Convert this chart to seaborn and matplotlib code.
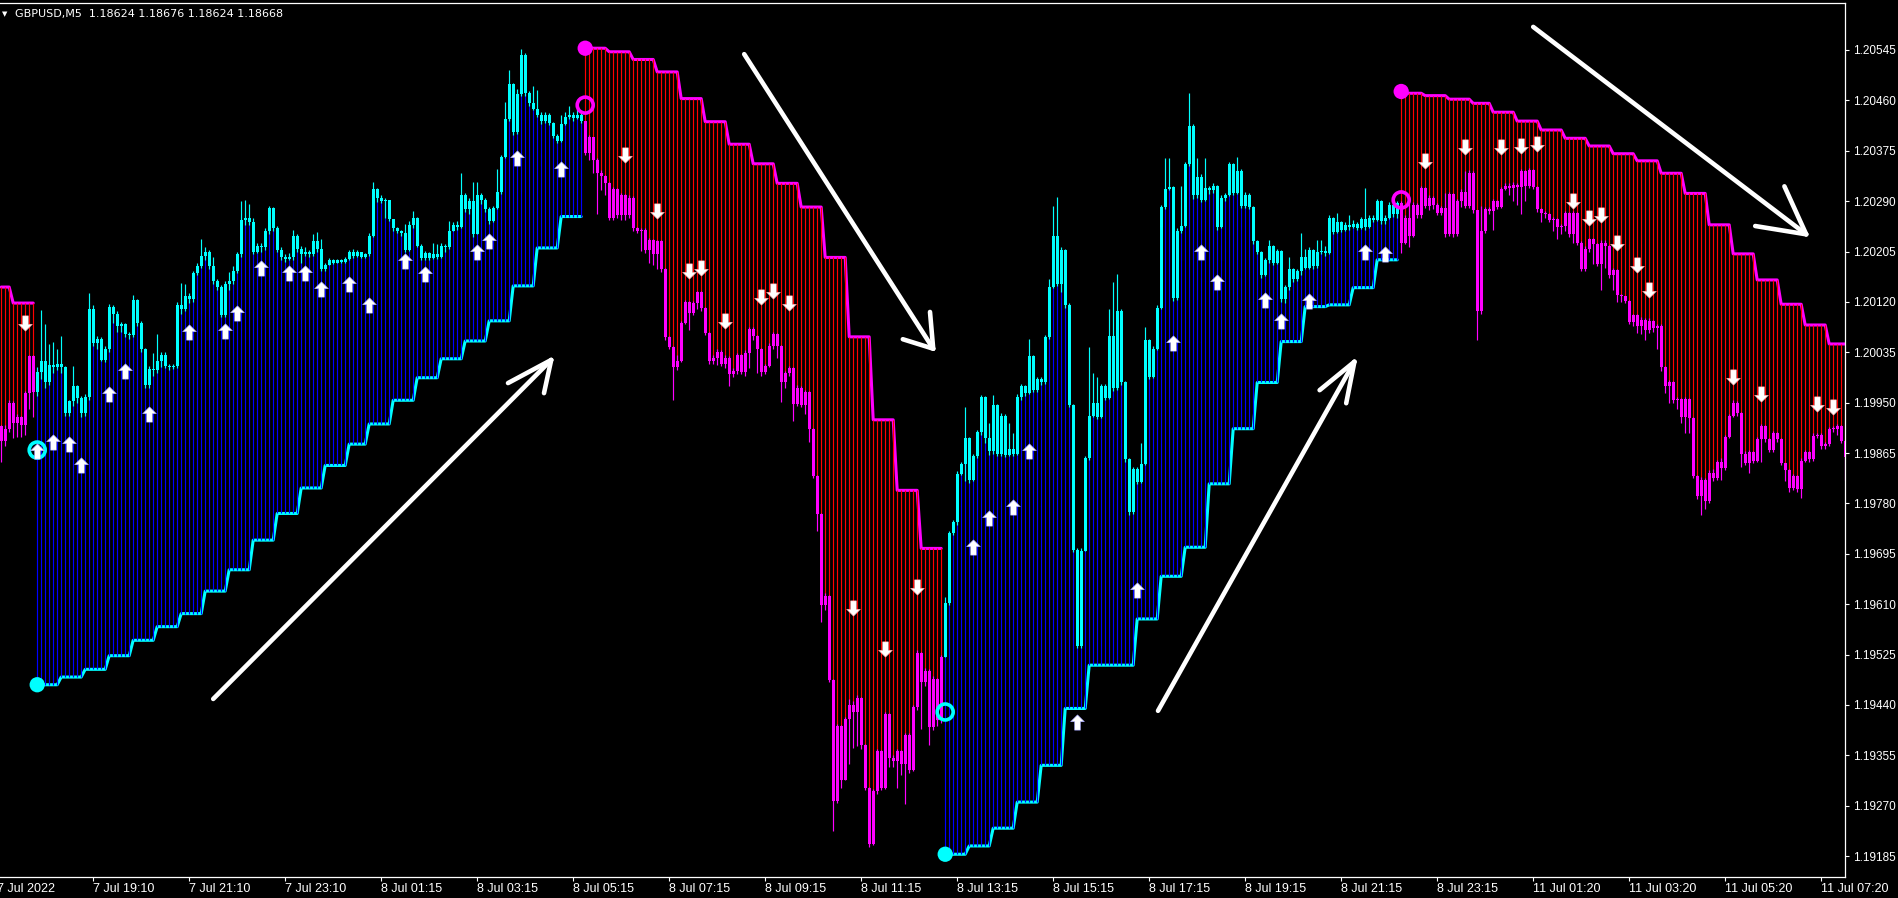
import numpy as np
import matplotlib
matplotlib.use("Agg")
import matplotlib.pyplot as plt
from matplotlib.path import Path
import seaborn as sns

# prices are kept in points (1e-5) above 1.19000
BASE = 1.19
PT = 1e-5

open_first = 910
close_pts = [
    886, 905, 950, 915, 925, 912, 966, 1028, 968, 1002,
    1020, 985, 1014, 1010, 1015, 1010, 932, 952, 978, 958,
    932, 960, 1108, 1050, 1058, 1022, 1040, 1112, 1100, 1080,
    1082, 1066, 1064, 1124, 1085, 1040, 980, 1007, 1005, 1020,
    1030, 1012, 1010, 1012, 1114, 1108, 1130, 1125, 1168, 1180,
    1198, 1205, 1180, 1155, 1145, 1098, 1150, 1155, 1172, 1200,
    1258, 1262, 1255, 1205, 1215, 1212, 1240, 1278, 1245, 1208,
    1195, 1192, 1195, 1232, 1210, 1200, 1205, 1200, 1222, 1210,
    1176, 1182, 1190, 1186, 1191, 1188, 1192, 1204, 1198, 1204,
    1196, 1200, 1232, 1310, 1296, 1290, 1292, 1260, 1244, 1240,
    1236, 1208, 1250, 1262, 1215, 1194, 1202, 1194, 1200, 1196,
    1215, 1212, 1240, 1250, 1246, 1300, 1276, 1290, 1234, 1300,
    1292, 1276, 1256, 1278, 1305, 1365, 1428, 1488, 1406, 1470,
    1536, 1472, 1456, 1446, 1436, 1425, 1436, 1422, 1400, 1392,
    1420, 1432, 1436, 1430, 1436, 1426, 1372, 1398, 1360, 1338,
    1332, 1320, 1262, 1310, 1266, 1300, 1266, 1296, 1244, 1240,
    1242, 1208, 1224, 1200, 1222, 1176, 1060, 1044, 1010, 1020,
    1085, 1120, 1102, 1118, 1136, 1110, 1068, 1020, 1026, 1036,
    1016, 1026, 998, 1004, 1030, 1002, 1034, 1075, 1062, 1040,
    1002, 1012, 1045, 1066, 1046, 984, 1000, 1008, 948, 975,
    946, 968, 906, 826, 762, 608, 624, 482, 278, 404,
    314, 416, 440, 428, 452, 372, 300, 206, 294, 362,
    300, 424, 350, 346, 362, 340, 390, 330, 436, 528,
    478, 498, 402, 484, 414, 520, 612, 730, 748, 830,
    846, 890, 820, 860, 900, 960, 890, 868, 946, 864,
    928, 862, 872, 864, 960, 978, 966, 1028, 972, 990,
    984, 1060, 1145, 1232, 1150, 1208, 1115, 946, 702, 540,
    700, 856, 928, 950, 926, 978, 958, 1062, 975, 1105,
    984, 855, 765, 838, 816, 846, 1055, 994, 1040, 1110,
    1280, 1310, 1314, 1126, 1240, 1248, 1352, 1416, 1300, 1330,
    1292, 1312, 1308, 1316, 1246, 1296, 1300, 1352, 1304, 1340,
    1282, 1300, 1280, 1222, 1205, 1165, 1190, 1214, 1186, 1206,
    1125, 1145, 1176, 1158, 1172, 1195, 1178, 1208, 1180, 1204,
    1206, 1202, 1262, 1238, 1254, 1242, 1250, 1246, 1252, 1245,
    1260, 1246, 1262, 1258, 1290, 1256, 1262, 1284, 1268, 1286,
    1220, 1262, 1232, 1284, 1266, 1312, 1282, 1296, 1284, 1270,
    1278, 1234, 1302, 1234, 1290, 1306, 1282, 1338, 1275, 1104,
    1240, 1276, 1274, 1290, 1280, 1310, 1316, 1312, 1318, 1314,
    1340, 1316, 1342, 1314, 1276, 1270, 1268, 1258, 1260, 1246,
    1248, 1270, 1234, 1270, 1220, 1176, 1210, 1226, 1218, 1184,
    1220, 1214, 1165, 1174, 1132, 1130, 1122, 1086, 1098, 1080,
    1090, 1072, 1088, 1076, 1080, 1010, 978, 984, 954, 956,
    926, 956, 924, 826, 792, 820, 784, 832, 822, 850,
    840, 892, 928, 950, 932, 864, 848, 866, 852, 888,
    910, 888, 870, 898, 888, 848, 836, 806, 826, 804,
    852, 866, 855, 894, 896, 876, 880, 906, 905, 910,
    886, 858,
]
high_pts = [
    912, 912, 955, 952, 930, 928, 970, 1030, 1030, 1010,
    1107, 1082, 1049, 1052, 1040, 1062, 1012, 955, 1011, 980,
    962, 965, 1135, 1115, 1062, 1060, 1045, 1117, 1115, 1105,
    1086, 1085, 1070, 1132, 1125, 1088, 1042, 1012, 1034, 1065,
    1035, 1035, 1015, 1016, 1120, 1152, 1150, 1135, 1172, 1185,
    1226, 1212, 1208, 1195, 1158, 1148, 1155, 1170, 1180, 1205,
    1291, 1292, 1285, 1262, 1220, 1220, 1245, 1282, 1280, 1248,
    1212, 1200, 1202, 1242, 1235, 1215, 1212, 1208, 1235, 1238,
    1226, 1186, 1194, 1192, 1193, 1192, 1195, 1208, 1210, 1207,
    1205, 1203, 1236, 1323, 1312, 1300, 1295, 1292, 1260, 1246,
    1242, 1251, 1256, 1274, 1264, 1218, 1206, 1204, 1220, 1218,
    1220, 1218, 1257, 1255, 1257, 1338, 1304, 1295, 1323, 1323,
    1304, 1295, 1280, 1282, 1345, 1368, 1457, 1511, 1490, 1480,
    1547, 1540, 1475, 1485, 1478, 1440, 1440, 1438, 1424, 1404,
    1435, 1440, 1451, 1440, 1445, 1440, 1426, 1402, 1399, 1362,
    1342, 1334, 1322, 1314, 1312, 1304, 1302, 1300, 1298, 1246,
    1244, 1244, 1228, 1226, 1225, 1224, 1178, 1062, 1046, 1030,
    1088, 1124, 1122, 1122, 1138, 1138, 1112, 1070, 1030, 1040,
    1038, 1030, 1028, 1008, 1034, 1032, 1038, 1078, 1077, 1064,
    1042, 1016, 1050, 1070, 1068, 1048, 1004, 1012, 1010, 980,
    978, 972, 970, 908, 828, 764, 628, 626, 484, 408,
    406, 420, 450, 446, 456, 454, 374, 302, 298, 366,
    364, 428, 426, 356, 366, 364, 392, 392, 440, 532,
    530, 502, 500, 488, 486, 524, 622, 734, 752, 834,
    850, 942, 892, 864, 904, 963, 962, 916, 963, 948,
    932, 930, 916, 899, 965, 982, 980, 1057, 1030, 994,
    994, 1064, 1159, 1282, 1297, 1212, 1210, 1118, 948, 704,
    704, 860, 1044, 1000, 993, 982, 982, 1108, 1154, 1167,
    1108, 986, 857, 842, 842, 882, 1078, 1058, 1046, 1114,
    1284, 1363, 1363, 1316, 1244, 1316, 1356, 1473, 1420, 1363,
    1335, 1363, 1316, 1320, 1318, 1300, 1304, 1356, 1354, 1365,
    1345, 1305, 1304, 1282, 1224, 1206, 1194, 1224, 1216, 1210,
    1208, 1148, 1196, 1178, 1176, 1236, 1210, 1212, 1210, 1224,
    1224, 1215, 1266, 1264, 1270, 1256, 1254, 1267, 1258, 1254,
    1264, 1312, 1266, 1266, 1294, 1292, 1266, 1288, 1288, 1290,
    1290, 1266, 1288, 1288, 1286, 1316, 1314, 1300, 1298, 1286,
    1282, 1303, 1306, 1304, 1294, 1310, 1340, 1342, 1340, 1275,
    1282, 1280, 1280, 1294, 1292, 1314, 1320, 1320, 1322, 1320,
    1344, 1342, 1346, 1344, 1316, 1278, 1274, 1270, 1264, 1262,
    1252, 1274, 1272, 1274, 1272, 1222, 1214, 1228, 1228, 1220,
    1224, 1224, 1216, 1178, 1176, 1134, 1128, 1124, 1100, 1100,
    1094, 1092, 1092, 1090, 1083, 1082, 1012, 988, 986, 960,
    958, 960, 958, 926, 828, 824, 822, 836, 838, 854,
    856, 896, 931, 954, 952, 934, 868, 870, 868, 892,
    914, 912, 890, 902, 900, 890, 848, 838, 830, 828,
    856, 870, 868, 898, 899, 898, 884, 909, 910, 914,
    912, 888,
]
low_pts = [
    850, 876, 900, 890, 892, 892, 895, 940, 925, 962,
    990, 975, 980, 1000, 1005, 1000, 928, 928, 945, 950,
    925, 928, 955, 1045, 1040, 1020, 1018, 1035, 1085, 1070,
    1070, 1060, 1058, 1060, 1080, 1035, 975, 975, 995, 1000,
    1010, 1008, 1005, 1006, 1008, 1100, 1105, 1118, 1120, 1165,
    1178, 1190, 1176, 1150, 1140, 1095, 1095, 1140, 1150, 1168,
    1195, 1250, 1250, 1200, 1202, 1205, 1208, 1235, 1240, 1205,
    1190, 1188, 1190, 1190, 1205, 1185, 1198, 1195, 1198, 1204,
    1172, 1172, 1182, 1184, 1185, 1185, 1186, 1190, 1194, 1196,
    1194, 1194, 1198, 1230, 1288, 1286, 1262, 1256, 1240, 1236,
    1232, 1205, 1206, 1245, 1212, 1190, 1190, 1190, 1192, 1192,
    1194, 1205, 1210, 1240, 1242, 1245, 1272, 1268, 1230, 1234,
    1285, 1272, 1252, 1254, 1276, 1302, 1362, 1425, 1402, 1404,
    1468, 1468, 1450, 1444, 1432, 1420, 1422, 1418, 1396, 1388,
    1390, 1418, 1428, 1426, 1428, 1422, 1368, 1360, 1338, 1269,
    1309, 1300, 1258, 1258, 1262, 1258, 1258, 1262, 1240, 1236,
    1206, 1202, 1185, 1182, 1175, 1170, 1056, 1040, 955, 1005,
    1018, 1082, 1073, 1098, 1108, 1104, 1064, 1016, 1016, 1014,
    1012, 1008, 978, 994, 998, 998, 995, 1008, 1055, 1000,
    995, 998, 1010, 1040, 1025, 951, 975, 995, 919, 944,
    942, 930, 883, 822, 734, 580, 600, 478, 228, 275,
    300, 350, 340, 368, 370, 366, 296, 200, 204, 290,
    296, 298, 336, 335, 300, 322, 273, 325, 328, 432,
    399, 472, 372, 398, 405, 410, 520, 608, 726, 744,
    828, 818, 815, 818, 856, 895, 882, 862, 864, 860,
    860, 858, 860, 860, 862, 955, 962, 964, 968, 968,
    980, 982, 1058, 1143, 1146, 1136, 1110, 942, 698, 536,
    536, 700, 854, 925, 922, 924, 954, 956, 970, 972,
    980, 850, 760, 762, 812, 814, 844, 990, 992, 1038,
    1108, 1276, 1308, 1122, 1124, 1236, 1246, 1350, 1294, 1296,
    1288, 1290, 1302, 1304, 1242, 1244, 1290, 1298, 1300, 1302,
    1278, 1278, 1276, 1218, 1200, 1160, 1164, 1186, 1182, 1184,
    1120, 1118, 1140, 1154, 1155, 1166, 1175, 1176, 1176, 1178,
    1200, 1198, 1200, 1234, 1236, 1238, 1240, 1242, 1244, 1242,
    1243, 1242, 1244, 1254, 1256, 1252, 1252, 1260, 1264, 1262,
    1202, 1218, 1213, 1230, 1262, 1262, 1278, 1275, 1276, 1266,
    1266, 1230, 1232, 1230, 1232, 1280, 1278, 1278, 1270, 1056,
    1100, 1236, 1268, 1241, 1276, 1278, 1308, 1300, 1290, 1284,
    1269, 1290, 1312, 1310, 1272, 1255, 1262, 1254, 1240, 1226,
    1234, 1240, 1230, 1220, 1216, 1172, 1172, 1205, 1184, 1180,
    1140, 1178, 1160, 1140, 1120, 1120, 1118, 1082, 1080, 1067,
    1066, 1056, 1068, 1070, 1040, 1004, 966, 950, 949, 940,
    915, 898, 898, 822, 788, 760, 770, 780, 818, 820,
    820, 836, 890, 926, 928, 842, 844, 831, 848, 850,
    850, 884, 866, 866, 884, 844, 817, 800, 802, 800,
    789, 850, 850, 852, 890, 872, 872, 876, 900, 896,
    882, 820,
]

# trend segments: first bar of each trend and its direction (1 up, -1 down)
trend_start = [0, 9, 146, 236, 350]
trend_dir = [-1, 1, -1, 1, -1]

# trailing stop steps (level in points, number of bars)
stop_levels = [1145, 1118,
               474, 487, 500, 523, 549, 572, 594, 632, 668, 718, 763, 806, 844,
               880, 914, 954, 992, 1024, 1054, 1088, 1147, 1211, 1264,
               1548, 1542, 1529, 1508, 1463, 1424, 1386, 1353, 1320, 1280,
               1195, 1061, 921, 802, 704,
               188, 202, 232, 276, 338, 434, 507, 585, 657, 706, 813, 906,
               984, 1053, 1112, 1115, 1144, 1191,
               1472, 1468, 1462, 1455, 1440, 1425, 1410, 1396, 1383, 1370,
               1358, 1337, 1303, 1250, 1201, 1157, 1116, 1081, 1049]
stop_runs = [3, 6,
             6, 6, 6, 6, 6, 6, 6, 6, 6, 6, 6, 6, 6,
             5, 6, 6, 6, 6, 6, 6, 6, 6, 6,
             6, 6, 6, 6, 6, 6, 6, 6, 6, 6,
             6, 6, 6, 6, 6,
             6, 6, 6, 6, 6, 6, 12, 6, 6, 6, 6, 6,
             6, 6, 6, 6, 6, 6,
             6, 6, 6, 5, 6, 6, 6, 6, 6, 6,
             6, 6, 6, 6, 6, 6, 6, 6, 5]

# circles at trend changes (bar, level)
dot_bar = [9, 146, 236, 350]
dot_pts = [474, 1548, 188, 1475]
ring_pts = [870, 1452, 428, 1292]

# small signal arrows (bar, level)
up_bar = [9, 13, 17, 20, 27, 31, 37, 47, 56, 59, 65, 72, 76, 80, 87, 92, 101, 106,
          119, 122, 129, 140, 243, 247, 253, 257, 269, 284, 293, 300, 304, 316,
          320, 327, 341, 346]
up_pts = [868, 883, 880, 844, 965, 1004, 930, 1070, 1071, 1101, 1177, 1168, 1168,
          1142, 1151, 1114, 1189, 1167, 1204, 1223, 1363, 1345, 706, 755, 774, 868,
          411, 634, 1050, 1205, 1154, 1123, 1087, 1122, 1205, 1201]
down_bar = [6, 156, 164, 172, 175, 181, 190, 193, 197, 213, 221, 229, 356, 366,
            375, 380, 384, 393, 397, 400, 404, 409, 412, 433, 440, 454, 458]
down_pts = [1085, 1368, 1274, 1172, 1178, 1088, 1129, 1138, 1118, 604, 535, 639,
            1357, 1381, 1381, 1383, 1386, 1291, 1261, 1267, 1219, 1183, 1140, 993,
            964, 948, 943]

# hand drawn trend arrows: tail, head and the two barb ends (bar, level)
big_tail = [(53, 450), (185.75, 1538), (289.2, 430), (383, 1584)]
big_head = [(137.5, 1022), (233, 1041), (338.3, 1019), (451.25, 1234)]
big_barb1 = [(126.7, 983), (225.4, 1057), (329.6, 971), (438.5, 1248)]
big_barb2 = [(135.7, 966), (232.2, 1103), (336.25, 949), (445.8, 1315)]

ytick_vals = [1.19185, 1.19270, 1.19355, 1.19440, 1.19525, 1.19610, 1.19695,
              1.19780, 1.19865, 1.19950, 1.20035, 1.20120, 1.20205, 1.20290,
              1.20375, 1.20460, 1.20545]
xtick_bars = [-1, 23, 47, 71, 95, 119, 143, 167, 191, 215, 239, 263, 287, 311,
              335, 359, 383, 407, 431, 455]
xtick_labels = ["7 Jul 2022", "7 Jul 19:10", "7 Jul 21:10", "7 Jul 23:10",
                "8 Jul 01:15", "8 Jul 03:15", "8 Jul 05:15", "8 Jul 07:15",
                "8 Jul 09:15", "8 Jul 11:15", "8 Jul 13:15", "8 Jul 15:15",
                "8 Jul 17:15", "8 Jul 19:15", "8 Jul 21:15", "8 Jul 23:15",
                "11 Jul 01:20", "11 Jul 03:20", "11 Jul 05:20", "11 Jul 07:20"]
title_text = "GBPUSD,M5  1.18624 1.18676 1.18624 1.18668"

CYAN, MAGENTA, BLUE, RED = "#00FFFF", "#FF00FF", "#0000FF", "#FF0000"


def px(v):
    return BASE + np.asarray(v, dtype=float) * PT


n = len(close_pts)
assert len(high_pts) == n and len(low_pts) == n, (n, len(high_pts), len(low_pts))
assert sum(stop_runs) == n and len(stop_runs) == len(stop_levels), (sum(stop_runs), len(stop_runs), len(stop_levels))

x = np.arange(n)
c = px(close_pts)
o = np.r_[px(open_first), c[:-1]]
h = np.maximum(px(high_pts), np.maximum(o, c))
l = np.minimum(px(low_pts), np.minimum(o, c))
stop = px(np.repeat(stop_levels, stop_runs))
bounds = trend_start + [n]
dirs = np.repeat(trend_dir, np.diff(bounds))
candle_col = np.where(dirs > 0, CYAN, MAGENTA)
hatch_col = np.where(dirs > 0, BLUE, RED)

sns.set_style("dark", {"axes.facecolor": "black", "figure.facecolor": "black"})
plt.rcParams["font.family"] = ["DejaVu Sans"]

fig = plt.figure(figsize=(18.99, 8.98), dpi=100, facecolor="black")
ax = fig.add_axes([0, 21 / 898, 1845 / 1899, 874 / 898])
ax.set_facecolor("black")
ax.grid(False)

# trailing stop lines
for k in range(len(trend_start)):
    a, b = bounds[k], bounds[k + 1]
    sns.lineplot(x=x[a:b], y=stop[a:b], ax=ax, color=CYAN if trend_dir[k] > 0 else MAGENTA,
                 linewidth=2.2, estimator=None, sort=False, legend=False, zorder=2)

# histogram between stop and close
ax.vlines(x, stop, c, colors=hatch_col, linewidth=0.85, zorder=3)

# candles
ax.vlines(x, l, h, colors=candle_col, linewidth=0.85, zorder=4)
body_lo = np.minimum(o, c)
body_h = np.maximum(np.abs(c - o), 1.7e-5)
ax.bar(x, body_h, bottom=body_lo, width=0.78, color=candle_col, linewidth=0, zorder=5)

# trend change circles
dot_col = [CYAN if d > 0 else MAGENTA for d in trend_dir[1:]]
ax.scatter(dot_bar, px(dot_pts), s=11 ** 2, c=dot_col, linewidths=0, zorder=6)
ax.scatter(dot_bar, px(ring_pts), s=11.5 ** 2, facecolors="none", edgecolors=dot_col,
           linewidths=2.6, zorder=6)

# signal arrows
up_verts = [(0, 1), (0.9, 0.1), (0.38, 0.1), (0.38, -1), (-0.38, -1), (-0.38, 0.1),
            (-0.9, 0.1), (0, 1)]
codes = [Path.MOVETO] + [Path.LINETO] * 6 + [Path.CLOSEPOLY]
up_path = Path(up_verts, codes)
down_path = Path([(vx, -vy) for vx, vy in up_verts], codes)
ax.scatter(up_bar, px(up_pts), marker=up_path, s=11 ** 2, c="white",
           edgecolors="#a0a0ff", linewidths=0.4, zorder=7)
ax.scatter(down_bar, px(down_pts), marker=down_path, s=11 ** 2, c="white",
           edgecolors="#ffa0a0", linewidths=0.4, zorder=7)

# hand drawn arrows
for (tb, tp), (hb, hp), (b1b, b1p), (b2b, b2p) in zip(big_tail, big_head, big_barb1, big_barb2):
    for (sb, sp) in [(tb, tp), (b1b, b1p), (b2b, b2p)]:
        ax.plot([sb, hb], px([sp, hp]), color="white", linewidth=3.3,
                solid_capstyle="round", zorder=8)

ax.set_xlim(-0.3, 460.95)
ax.set_ylim(px(149.6), px(1624.3))

# axes frame
for side in ["top", "right", "bottom"]:
    ax.spines[side].set_visible(True)
    ax.spines[side].set_color("white")
    ax.spines[side].set_linewidth(0.9)
ax.spines["left"].set_visible(False)

ax.yaxis.tick_right()
ax.set_yticks(ytick_vals)
ax.set_yticklabels([f"{v:.5f}" for v in ytick_vals], fontfamily="Liberation Sans")
ax.tick_params(axis="y", colors="white", labelcolor="white", direction="out",
               length=3, width=0.8, pad=2.5, labelsize=8.5, left=False, right=True)
ax.set_xticks(xtick_bars[1:])
ax.set_xticklabels(xtick_labels[1:], ha="left", fontfamily="Liberation Sans")
ax.tick_params(axis="x", colors="white", labelcolor="white", direction="out",
               length=3, width=0.8, pad=1.5, labelsize=9, bottom=True)
ax.annotate(xtick_labels[0], xy=(xtick_bars[0], 0), xycoords=("data", "axes fraction"),
            xytext=(0, -4.5), textcoords="offset points", ha="left", va="top",
            color="white", fontsize=9, fontfamily="Liberation Sans", annotation_clip=False)

fig.text(2 / 1899, 1 - 14 / 898, "\u25bc", color="white", fontsize=5, ha="left", va="center")
fig.text(15 / 1899, 1 - 14 / 898, title_text, color="white", fontsize=8, ha="left", va="center")

fig.savefig("out.png", dpi=100, facecolor="black")
